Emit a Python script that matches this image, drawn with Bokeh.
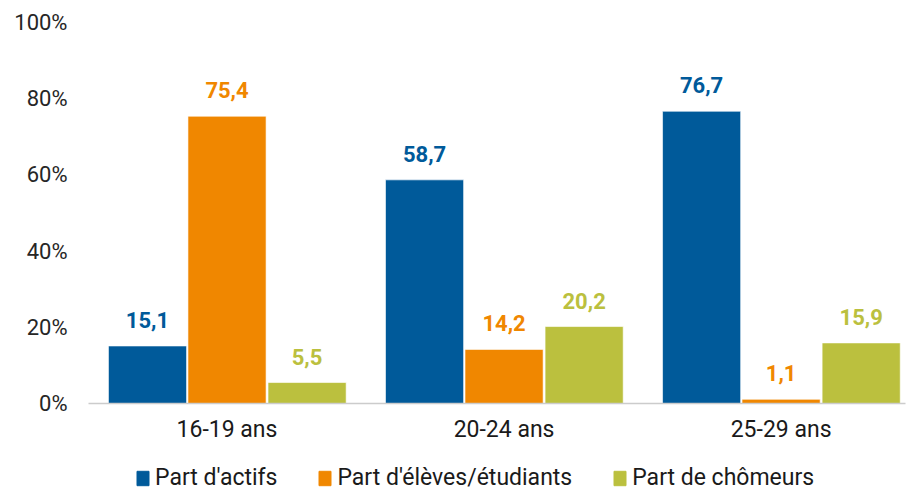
from bokeh.plotting import figure
from bokeh.models import ColumnDataSource, Range1d, FixedTicker, Legend, LegendItem, LabelSet
from bokeh.layouts import column
from bokeh.core.properties import value
from bokeh.embed import file_html
from bokeh.resources import INLINE

groups = ["16-19 ans", "20-24 ans", "25-29 ans"]
series = ["Part d'actifs", "Part d'élèves/étudiants", "Part de chômeurs"]
actifs = [15.1, 58.7, 76.7]
eleves = [75.4, 14.2, 1.1]
chomeurs = [5.5, 20.2, 15.9]
colors = ["#005A9A", "#F08700", "#BBC03E"]
y_ticks = [0, 20, 40, 60, 80, 100]

p = figure(width=910, height=445, output_backend="svg", toolbar_location=None,
           x_range=Range1d(-0.5, 2.449), y_range=Range1d(0, 100),
           min_border_left=88, min_border_right=5, min_border_top=22, min_border_bottom=42)
p.outline_line_color = None
p.grid.visible = False
p.background_fill_color = "white"

# legend strip below the chart (its frame is aligned with the chart's frame)
lg = figure(width=910, height=46, output_backend="svg", toolbar_location=None,
            x_axis_type=None, y_axis_type=None, x_range=Range1d(-0.5, 2.449),
            y_range=Range1d(200, 300),
            min_border_left=88, min_border_right=5, min_border_top=0, min_border_bottom=0)
lg.outline_line_color = None
lg.grid.visible = False

offsets = [-0.287, 0.0, 0.289]
width = 0.282
items = []
for vals, off, col, name in zip([actifs, eleves, chomeurs], offsets, colors, series):
    xs = [i + off for i in range(len(groups))]
    labels = [f"{v:.1f}".replace(".", ",") for v in vals]
    src = ColumnDataSource(dict(x=xs, top=vals, lab=labels))
    p.vbar(x="x", top="top", width=width, bottom=0, source=src,
           fill_color=col, line_color="white", line_alpha=0.6, line_width=1)
    p.add_layout(LabelSet(x="x", y="top", text="lab", source=src, text_align="center",
                          text_baseline="alphabetic", y_offset=18, text_color=col,
                          text_font=value("Roboto"), text_font_size="22px",
                          text_font_style="bold"))
    # proxy renderer (hidden) used only for the legend swatch
    r = lg.vbar(x="x", top="top", width=width, bottom=0, source=src,
                fill_color=col, line_color=col, visible=False)
    items.append(LegendItem(label=name, renderers=[r]))

# y axis
p.yaxis.ticker = FixedTicker(ticks=y_ticks)
p.yaxis.major_label_overrides = {t: f"{t}%" for t in y_ticks}
p.yaxis.axis_line_color = None
p.yaxis.major_tick_line_color = None
p.yaxis.minor_tick_line_color = None
p.yaxis.major_label_standoff = 15
p.yaxis.major_label_text_font = "Roboto"
p.yaxis.major_label_text_font_size = "22px"
p.yaxis.major_label_text_color = "#262626"

# x axis
p.xaxis.ticker = FixedTicker(ticks=[0, 1, 2])
p.xaxis.major_label_overrides = {i: g for i, g in enumerate(groups)}
p.xaxis.axis_line_color = "#CCCCCC"
p.xaxis.axis_line_width = 1.5
p.xaxis.major_tick_line_color = None
p.xaxis.minor_tick_line_color = None
p.xaxis.major_label_standoff = 6
p.xaxis.major_label_text_font = "Roboto"
p.xaxis.major_label_text_font_size = "23px"
p.xaxis.major_label_text_color = "#1A1A1A"

legend = Legend(items=items, orientation="horizontal", location=(47, 0),
                label_text_font="Roboto", label_text_font_size="23px",
                label_text_color="#1A1A1A", glyph_width=15, glyph_height=18,
                label_standoff=5, spacing=40, border_line_color=None,
                background_fill_alpha=0, inactive_fill_alpha=0,
                margin=0, padding=0)
lg.add_layout(legend, "center")

layout = column(p, lg, spacing=0)
open("out.html", "w").write(file_html(layout, INLINE))
